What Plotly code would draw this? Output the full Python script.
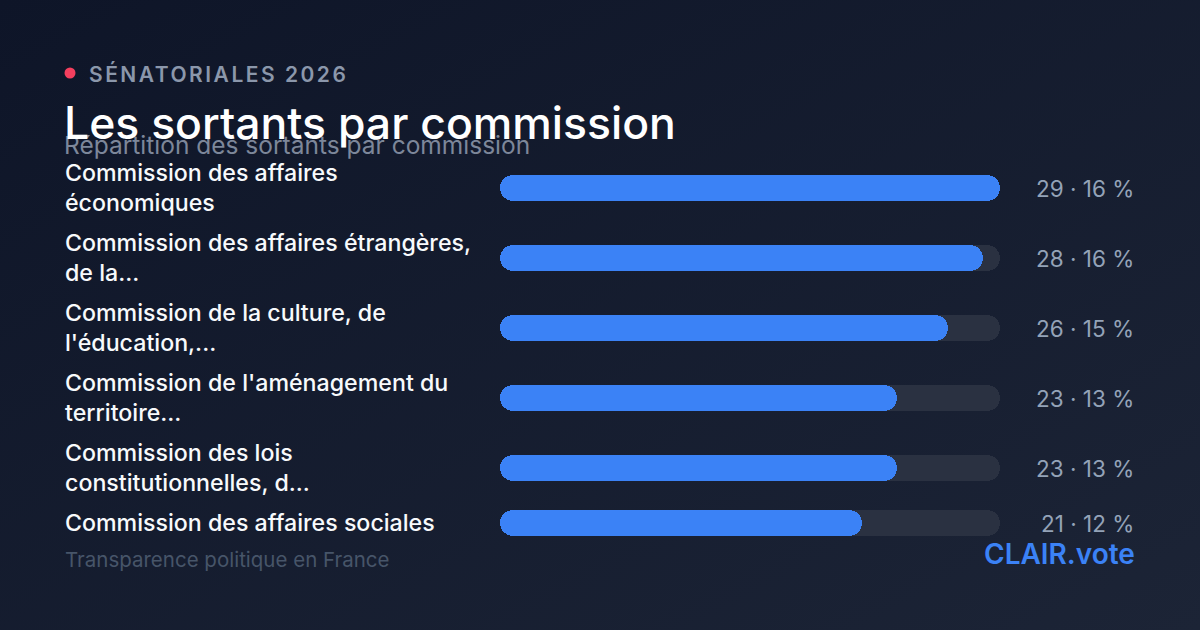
import base64
import plotly.graph_objects as go

# ---- data ----
categories = [
    "Commission des affaires<br>économiques",
    "Commission des affaires étrangères,<br>de la...",
    "Commission de la culture, de<br>l'éducation,...",
    "Commission de l'aménagement du<br>territoire...",
    "Commission des lois<br>constitutionnelles, d...",
    "Commission des affaires sociales",
]
counts = [29, 28, 26, 23, 23, 21]
percents = [16, 16, 15, 13, 13, 12]

kicker = "SÉNATORIALES 2026"
title = "Les sortants par commission"
subtitle = "Répartition des sortants par commission"
footer_left = "Transparence politique en France"
footer_right = "CLAIR.vote"

W, H = 1200, 630
FONT = "Inter, Roboto, sans-serif"

# row layout (pixel units on y axis): rows stacked by number of label lines
row_h = {1: 40, 2: 70}
start = 153
ys = []
cur = start
for c in categories:
    h = row_h[c.count("<br>") + 1]
    ys.append(cur + h / 2)
    cur += h

vmax = max(counts)

fig = go.Figure()


def add_pill(values, color):
    # two overlapping pieces so both ends get the rounded corners
    fig.add_trace(go.Bar(
        y=ys, x=[v * 0.6 for v in values], base=[v * 0.4 for v in values],
        orientation="h", width=26, marker=dict(color=color, line=dict(width=0)),
        hoverinfo="skip", showlegend=False,
    ))
    fig.add_trace(go.Bar(
        y=ys, x=[-v * 0.6 for v in values], base=[v * 0.6 for v in values],
        orientation="h", width=26, marker=dict(color=color, line=dict(width=0)),
        hoverinfo="skip", showlegend=False,
    ))


add_pill([vmax] * len(counts), "#2a3141")
add_pill(counts, "#3b82f6")

ann = []
for c, y, n, p in zip(categories, ys, counts, percents):
    ann.append(dict(
        text=c, x=63 / W, xref="paper", y=y, yref="y", xanchor="left", yanchor="middle",
        align="left", showarrow=False,
        font=dict(family=FONT, size=23.2, color="#f8fafc", weight=500),
    ))
    ann.append(dict(
        text=f"{n} · {p} %", x=1136 / W, xref="paper", y=y, yref="y", xanchor="right",
        yanchor="middle", showarrow=False,
        font=dict(family=FONT, size=22.5, color="#94a3b8", weight=400),
    ))

# header / footer
ann += [
    dict(text=f'<span style="letter-spacing:2.5px">{kicker}</span>',
         x=87 / W, y=1 - 74 / H, xref="paper", yref="paper",
         xanchor="left", yanchor="middle", showarrow=False,
         font=dict(family=FONT, size=21, color="#8b97ab", weight=600)),
    dict(text=subtitle, x=62 / W, y=1 - 145 / H, xref="paper", yref="paper",
         xanchor="left", yanchor="middle", showarrow=False,
         font=dict(family=FONT, size=24.5, color="#7d879a", weight=400)),
    dict(text=title, x=62 / W, y=1 - 123 / H, xref="paper", yref="paper",
         xanchor="left", yanchor="middle", showarrow=False,
         font=dict(family=FONT, size=44.5, color="#ffffff", weight=500)),
    dict(text=footer_left, x=63 / W, y=1 - 559 / H, xref="paper", yref="paper",
         xanchor="left", yanchor="middle", showarrow=False,
         font=dict(family=FONT, size=20.5, color="#475569", weight=400)),
    dict(text=footer_right, x=1137 / W, y=1 - 554 / H, xref="paper", yref="paper",
         xanchor="right", yanchor="middle", showarrow=False,
         font=dict(family=FONT, size=28, color="#3b82f6", weight=600)),
]

svg = (
    '<svg xmlns="http://www.w3.org/2000/svg" width="1200" height="630">'
    '<defs><linearGradient id="g" x1="0" y1="0" x2="1" y2="1">'
    '<stop offset="0" stop-color="#0e1528"/><stop offset="1" stop-color="#1c2436"/>'
    '</linearGradient></defs><rect width="1200" height="630" fill="url(#g)"/></svg>'
)
src = "data:image/svg+xml;base64," + base64.b64encode(svg.encode()).decode()

fig.update_layout(
    width=W, height=H,
    margin=dict(l=0, r=0, t=0, b=0),
    paper_bgcolor="#121a2c", plot_bgcolor="rgba(0,0,0,0)",
    barmode="overlay", barcornerradius=13, bargap=0,
    xaxis=dict(domain=[500 / W, 1000 / W], range=[0, vmax], visible=False, fixedrange=True),
    yaxis=dict(range=[H, 0], visible=False, fixedrange=True),
    annotations=ann,
    shapes=[dict(type="circle", xref="paper", yref="paper",
                 x0=64.5 / W, x1=75.5 / W, y0=1 - 67.5 / H, y1=1 - 78.5 / H,
                 fillcolor="#f43f5e", line=dict(width=0))],
    images=[dict(source=src, xref="paper", yref="paper", x=0, y=1, sizex=1, sizey=1,
                 sizing="stretch", layer="below", xanchor="left", yanchor="top")],
    showlegend=False,
)

fig.write_html(
    "out.html",
    config={"displayModeBar": False},
    post_script="document.body.style.margin='0';document.body.style.background='#0e1528';",
)
